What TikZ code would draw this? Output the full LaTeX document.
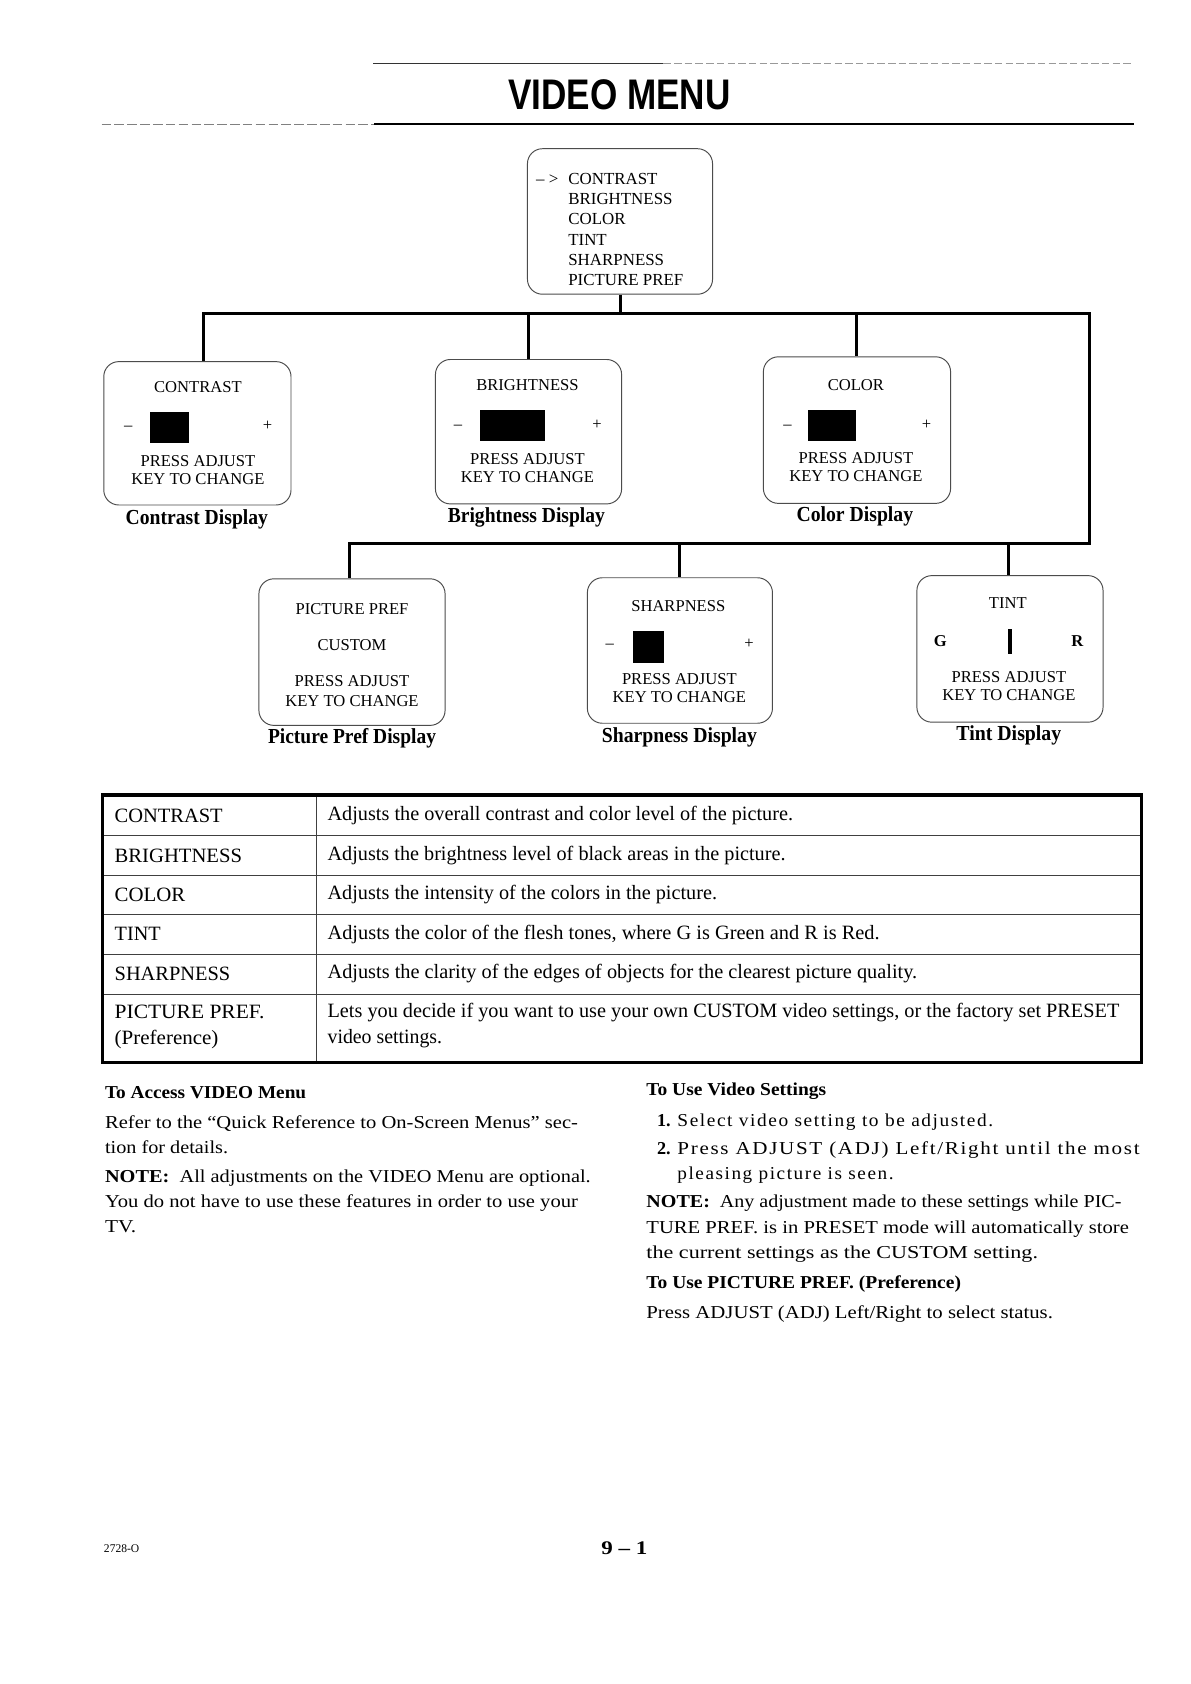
\documentclass[tikz,border=0pt]{standalone}
\usepackage{fontspec}
\usepackage{graphicx}
\setmainfont{Liberation Serif}
\newfontfamily\hfont{Liberation Sans}
\newfontfamily\lsfont{Liberation Serif}[LetterSpace=8]
\newcommand\wfit[2]{\resizebox{#1pt}{\height}{#2}}
\begin{document}
\begin{tikzpicture}[x=1pt,y=-1pt,
  box/.style={draw=black!70, line width=0.9pt, rounded corners=14pt, inner sep=0},
  conn/.style={line width=2.8pt},
  bt/.style={inner sep=0, anchor=base, font=\fontsize{15.5}{17}\selectfont},
  mt/.style={inner sep=0, anchor=base west, font=\fontsize{15.8}{17}\selectfont},
  capt/.style={inner sep=0, anchor=base, font=\bfseries\fontsize{20}{22}\selectfont},
  tb/.style={inner sep=0, anchor=base west, font=\fontsize{19}{21}\selectfont},
  body/.style={inner sep=0, anchor=base west, font=\fontsize{17}{19}\selectfont},
  bodyb/.style={body, font=\bfseries\fontsize{17}{19}\selectfont},
  bodyls/.style={body, font=\lsfont\fontsize{17}{19}\selectfont},
  blk/.style={fill=black, inner sep=0}
]
\fill[white] (0,0) rectangle (1113.2,1574);
\useasboundingbox (0,0) rectangle (1113.2,1574);

% header
\draw[line width=0.8pt, black!80] (349,59) -- (620,59);
\draw[line width=0.6pt, black!40, dash pattern=on 7pt off 3pt] (620,59) -- (1060,59);
\node[inner sep=0, anchor=base, font=\hfont\bfseries\fontsize{40}{40}\selectfont] (title) at (579,102) {\wfit{208}{VIDEO MENU}};
\draw[line width=1.8pt] (350,116) -- (1060,116);
\draw[line width=0.8pt, black!50, dash pattern=on 9pt off 3pt] (95,116) -- (350,116);

% top menu box
\node[box, minimum width=173pt, minimum height=136pt] (menu) at (579.5,207) {};
\node[mt] (arr) at (501,172) {-- >};
\node[mt] (m1) at (531,172) {CONTRAST};
\node[mt] (m2) at (531,191) {BRIGHTNESS};
\node[mt] (m3) at (531,210) {COLOR};
\node[mt] (m4) at (531,229) {TINT};
\node[mt] (m5) at (531,248) {SHARPNESS};
\node[mt] (m6) at (531,267) {PICTURE PREF};

% row 1 boxes
\node[box, minimum width=175pt, minimum height=134pt] (contrast) at (184.5,405) {};
\node[bt] (ct) at (185,367) {CONTRAST};
\node[bt] (cm) at (120,402) {--};
\node[blk, minimum width=37pt, minimum height=29pt] (cb) at (158.5,399.5) {};
\node[bt] (cp) at (250,402) {+};
\node[bt] (c1) at (185,436) {PRESS ADJUST};
\node[bt] (c2) at (185,453) {KEY TO CHANGE};
\node[capt] (ccap) at (184,490) {\wfit{133}{Contrast Display}};

\node[box, minimum width=174pt, minimum height=135pt] (bright) at (494,403.5) {};
\node[bt] (bt1) at (493,365) {BRIGHTNESS};
\node[bt] (bm) at (428,401) {--};
\node[blk, minimum width=60pt, minimum height=29pt] (bb) at (479,398) {};
\node[bt] (bp) at (558,401) {+};
\node[bt] (b1) at (493,434) {PRESS ADJUST};
\node[bt] (b2) at (493,451) {KEY TO CHANGE};
\node[capt] (bcap) at (492,488) {\wfit{147}{Brightness Display}};

\node[box, minimum width=175pt, minimum height=137pt] (color) at (801,402) {};
\node[bt] (kt) at (800,365) {COLOR};
\node[bt] (km) at (736,401) {--};
\node[blk, minimum width=45pt, minimum height=29pt] (kb) at (778,397.5) {};
\node[bt] (kp) at (866,401) {+};
\node[bt] (k1) at (800,433) {PRESS ADJUST};
\node[bt] (k2) at (800,450) {KEY TO CHANGE};
\node[capt] (kcap) at (799,487) {\wfit{109}{Color Display}};

% row 2 boxes
\node[box, minimum width=174pt, minimum height=137pt] (picture) at (329,609.5) {};
\node[bt] (pt) at (329,574) {PICTURE PREF};
\node[bt] (pc) at (329,608) {CUSTOM};
\node[bt] (p1) at (329,642) {PRESS ADJUST};
\node[bt] (p2) at (329,660) {KEY TO CHANGE};
\node[capt] (pcap) at (329,695) {\wfit{157}{Picture Pref Display}};

\node[box, minimum width=173pt, minimum height=136pt] (sharp) at (635.5,608) {};
\node[bt] (st) at (634,572) {SHARPNESS};
\node[bt] (sm) at (570,606) {--};
\node[blk, minimum width=29pt, minimum height=30pt] (sb) at (606.5,605) {};
\node[bt] (sp) at (700,606) {+};
\node[bt] (s1) at (635,640) {PRESS ADJUST};
\node[bt] (s2) at (635,657) {KEY TO CHANGE};
\node[capt] (scap) at (635,694) {\wfit{145}{Sharpness Display}};

\node[box, minimum width=174pt, minimum height=137pt] (tint) at (944,606.5) {};
\node[bt] (tt) at (942,569) {TINT};
\node[bt, font=\bfseries\fontsize{15.5}{17}\selectfont] (tg) at (879,604) {G};
\node[blk, minimum width=4.5pt, minimum height=23pt] (tbar) at (944,599.5) {};
\node[bt, font=\bfseries\fontsize{15.5}{17}\selectfont] (tr) at (1007,604) {R};
\node[bt] (t1) at (943,638) {PRESS ADJUST};
\node[bt] (t2) at (943,655) {KEY TO CHANGE};
\node[capt] (tcap) at (943,692) {\wfit{98}{Tint Display}};

% connectors
\coordinate (j1) at (190,293);
\coordinate (j2) at (1018,293);
\coordinate (j3) at (1018,508);
\coordinate (j4) at (327,508);
\coordinate (jb) at (494,293);
\coordinate (jc) at (801,293);
\coordinate (js) at (635,508);
\coordinate (jt) at (943,508);
\draw[conn] (menu.south) -- (menu.south |- j1);
\draw[conn] (j1 |- contrast.north) -- (j1) -- (j2) -- (j3) -- (j4) -- (j4 |- picture.north);
\draw[conn] (jb) -- (jb |- bright.north);
\draw[conn] (jc) -- (jc |- color.north);
\draw[conn] (js) -- (js |- sharp.north);
\draw[conn] (jt) -- (jt |- tint.north);

% table
\foreach \yy in {781,818,855,892,929}
  \draw[line width=0.8pt, black!75] (96,\yy) -- (1067,\yy);
\draw[line width=0.8pt, black!75] (296,743) -- (296,993);
\draw[line width=3pt] (96,743) rectangle (1067,993);
\node[tb] (r1a) at (107,769) {\wfit{101}{CONTRAST}};
\node[tb] (r2a) at (107,806) {\wfit{119}{BRIGHTNESS}};
\node[tb] (r3a) at (107,843) {\wfit{66}{COLOR}};
\node[tb] (r4a) at (107,879) {\wfit{43}{TINT}};
\node[tb] (r5a) at (107,916) {\wfit{108}{SHARPNESS}};
\node[tb] (r6a) at (107,952) {\wfit{140}{PICTURE PREF.}};
\node[tb] (r6c) at (107,976) {\wfit{97}{(Preference)}};
\node[tb] (r1b) at (306,767) {\wfit{435}{Adjusts the overall contrast and color level of the picture.}};
\node[tb] (r2b) at (306,804) {\wfit{428}{Adjusts the brightness level of black areas in the picture.}};
\node[tb] (r3b) at (306,841) {\wfit{364}{Adjusts the intensity of the colors in the picture.}};
\node[tb] (r4b) at (306,878) {\wfit{516}{Adjusts the color of the flesh tones, where G is Green and R is Red.}};
\node[tb] (r5b) at (306,915) {\wfit{551}{Adjusts the clarity of the edges of objects for the clearest picture quality.}};
\node[tb] (r6b) at (306,951) {\wfit{740}{Lets you decide if you want to use your own CUSTOM video settings, or the factory set PRESET}};
\node[tb] (r6d) at (306,975) {\wfit{107}{video settings.}};

% left column text
\node[bodyb] (la) at (98,1027) {\wfit{188}{To Access VIDEO Menu}};
\node[body] (lb) at (98,1055) {\wfit{442}{Refer to the “Quick Reference to On-Screen Menus” sec-}};
\node[body] (lc) at (98,1078) {\wfit{115}{tion for details.}};
\node[body] (ld) at (98,1105) {\wfit{454}{\textbf{NOTE:}\ \ All adjustments on the VIDEO Menu are optional.}};
\node[body] (le) at (98,1129) {\wfit{442}{You do not have to use these features in order to use your}};
\node[body] (lf) at (98,1152) {\wfit{29}{TV.}};

% right column text
\node[bodyb] (ra) at (604,1024) {\wfit{168}{To Use Video Settings}};
\node[bodyb] (rn1) at (614,1053) {1.};
\node[bodyls] (rb) at (633,1053) {\wfit{295}{Select video setting to be adjusted.}};
\node[bodyb] (rn2) at (614,1079) {2.};
\node[bodyls] (rc) at (633,1079) {\wfit{432}{Press ADJUST (ADJ) Left/Right until the most}};
\node[bodyls] (rd) at (633,1102) {\wfit{202}{pleasing picture is seen.}};
\node[body] (re) at (604,1129) {\wfit{444}{\textbf{NOTE:}\ \ Any adjustment made to these settings while PIC-}};
\node[body] (rf) at (604,1153) {\wfit{451}{TURE PREF. is in PRESET mode will automatically store}};
\node[body] (rg) at (604,1176) {\wfit{366}{the current settings as the CUSTOM setting.}};
\node[bodyb] (rh) at (604,1204) {\wfit{294}{To Use PICTURE PREF. (Preference)}};
\node[body] (ri) at (604,1232) {\wfit{380}{Press ADJUST (ADJ) Left/Right to select status.}};

% footer
\node[inner sep=0, anchor=base west, font=\fontsize{11}{12}\selectfont] (code) at (97,1451) {\wfit{33}{2728-O}};
\node[inner sep=0, anchor=base, font=\bfseries\fontsize{18}{20}\selectfont] (page) at (583.5,1453) {\wfit{43}{9 -- 1}};
\end{tikzpicture}
\end{document}
